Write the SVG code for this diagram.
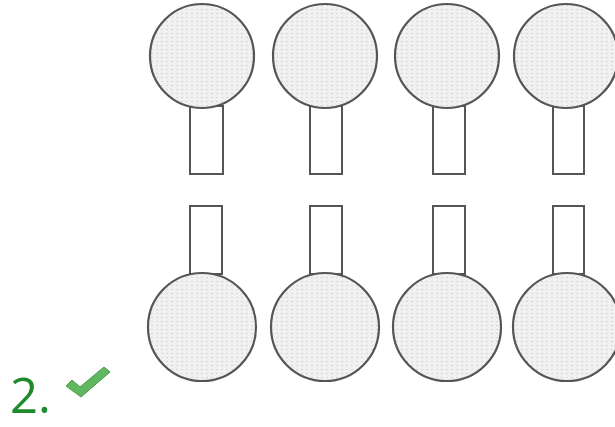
<svg xmlns="http://www.w3.org/2000/svg" width="615" height="427" viewBox="0 0 615 427">
<defs>
<pattern id="dots" width="5" height="4" patternUnits="userSpaceOnUse">
<rect width="5" height="4" fill="#f1f1f1"/>
<rect x="1" y="1" width="2" height="1" fill="#d6d6d6"/>
</pattern>
<style>
.ball{fill:url(#dots);stroke:#555;stroke-width:2.2}
.stem{fill:#fff;stroke:#555;stroke-width:2}
.lbl{font-family:"Open Sans","Noto Sans",sans-serif;font-size:49px;fill:#1e8a2e}
.chk{fill:#5fb760;stroke:#4a9a4c;stroke-width:1}
</style>
</defs>
<g id="top-1"><rect class="stem" x="190" y="106" width="33" height="68"/><circle class="ball" cx="202" cy="56" r="52"/></g>
<g id="top-2"><rect class="stem" x="310" y="106" width="32" height="68"/><circle class="ball" cx="325" cy="56" r="52"/></g>
<g id="top-3"><rect class="stem" x="433" y="106" width="32" height="68"/><circle class="ball" cx="447" cy="56" r="52"/></g>
<g id="top-4"><rect class="stem" x="553" y="106" width="31" height="68"/><circle class="ball" cx="566" cy="56" r="52"/></g>
<g id="bottom-1"><rect class="stem" x="190" y="206" width="32" height="68"/><circle class="ball" cx="202" cy="327" r="54"/></g>
<g id="bottom-2"><rect class="stem" x="310" y="206" width="32" height="68"/><circle class="ball" cx="325" cy="327" r="54"/></g>
<g id="bottom-3"><rect class="stem" x="433" y="206" width="32" height="68"/><circle class="ball" cx="447" cy="327" r="54"/></g>
<g id="bottom-4"><rect class="stem" x="553" y="206" width="31" height="68"/><circle class="ball" cx="567" cy="327" r="54"/></g>
<g id="label">
<text class="lbl" x="10" y="413">2.</text>
<path class="chk" d="M66 386 L72 380 L80 387 L104 367 L110 372 L81 397 Z"/>
</g>
</svg>
